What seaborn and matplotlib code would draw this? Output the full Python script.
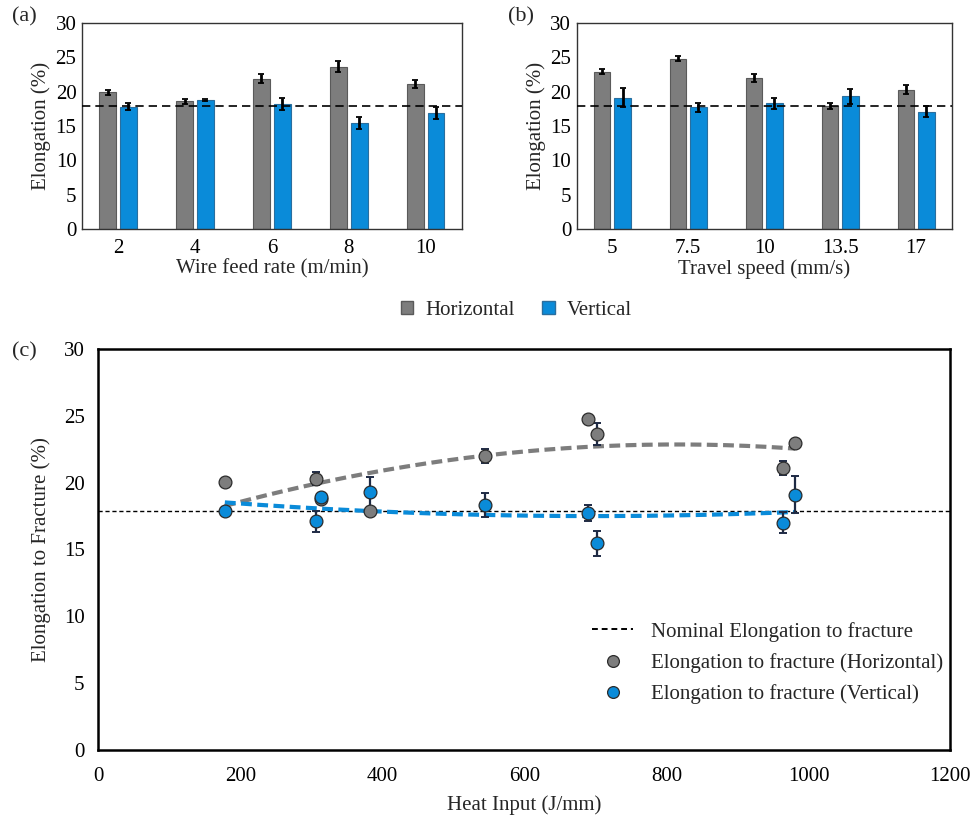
import numpy as np
import pandas as pd
import matplotlib
matplotlib.use("Agg")
import matplotlib.pyplot as plt
from matplotlib.lines import Line2D
from matplotlib.patches import Patch
import seaborn as sns

# (a) elongation vs wire feed rate
wfr_labels = ["2", "4", "6", "8", "10"]
wfr_horizontal = [19.9, 18.6, 21.9, 23.6, 21.1]
wfr_horizontal_err = [0.4, 0.35, 0.6, 0.8, 0.6]
wfr_vertical = [17.8, 18.8, 18.2, 15.4, 16.9]
wfr_vertical_err = [0.5, 0.1, 0.9, 0.9, 0.9]

# (b) elongation vs travel speed
ts_labels = ["5", "7.5", "10", "13.5", "17"]
ts_horizontal = [22.9, 24.8, 22.0, 17.9, 20.3]
ts_horizontal_err = [0.4, 0.4, 0.6, 0.4, 0.6]
ts_vertical = [19.1, 17.7, 18.3, 19.3, 17.1]
ts_vertical_err = [1.4, 0.7, 0.8, 1.1, 0.8]

nominal_elongation = 17.9

# (c) elongation to fracture vs heat input
heat_input = [178, 307, 314, 383, 544, 689, 702, 964, 981]
hi_horizontal = [20.05, 20.3, 18.75, 17.9, 22.0, 24.8, 23.65, 21.1, 22.95]
hi_horizontal_err = [0.0, 0.5, 0.3, 0.3, 0.5, 0.0, 0.8, 0.5, 0.0]
hi_vertical = [17.85, 17.1, 18.9, 19.3, 18.3, 17.7, 15.45, 17.0, 19.1]
hi_vertical_err = [0.3, 0.8, 0.3, 1.1, 0.9, 0.6, 0.9, 0.8, 1.4]

GRAY = "#7d7d7d"
BLUE = "#0a8bd9"
GRAY_EDGE = "#5a5a5a"
BLUE_EDGE = "#2a6e9e"
ORIENTS = ["Horizontal", "Vertical"]

sns.set_theme(style="white")
plt.rcParams["font.family"] = ["Liberation Serif", "DejaVu Serif"]
plt.rcParams["mathtext.fontset"] = "stix"

fig = plt.figure(figsize=(9.71, 8.16), dpi=100)

ax_a = fig.add_axes([0.0845, 0.7194, 0.391, 0.2525])
ax_b = fig.add_axes([0.594, 0.7194, 0.386, 0.2525])
ax_c = fig.add_axes([0.1014, 0.0809, 0.8774, 0.4914])


def bar_panel(ax, labels, h, he, v, ve, xlabel):
    n = len(labels)
    df = pd.DataFrame({
        "condition": labels + labels,
        "elongation": h + v,
        "orientation": [ORIENTS[0]] * n + [ORIENTS[1]] * n,
    })
    sns.barplot(data=df, x="condition", y="elongation", hue="orientation",
                order=labels, hue_order=ORIENTS, palette=[GRAY, BLUE],
                width=0.54, gap=0.2, errorbar=None, linewidth=0.8,
                saturation=1, legend=False, ax=ax)
    vals = h + v
    errs = he + ve
    for i, (patch, val, err) in enumerate(zip(ax.patches, vals, errs)):
        patch.set_edgecolor(GRAY_EDGE if i < n else BLUE_EDGE)
        xc = patch.get_x() + patch.get_width() / 2
        ax.errorbar(xc, val, yerr=err, fmt="none", ecolor="black",
                    elinewidth=2.0, capsize=2.2, capthick=1.3, zorder=5)
    ax.axhline(nominal_elongation, color="black", ls=(0, (5, 3)), lw=1.2, zorder=4)
    ax.set_ylim(0, 30)
    ax.set_yticks(range(0, 31, 5))
    ax.set_xlabel(xlabel, fontsize=15, labelpad=1)
    ax.set_ylabel("Elongation (%)", fontsize=15, labelpad=3)
    ax.tick_params(axis="both", length=0, labelsize=15, colors="black")
    ax.tick_params(axis="x", pad=7)
    ax.tick_params(axis="y", pad=4)
    for s in ax.spines.values():
        s.set_color("#333333")
        s.set_linewidth(1.0)


bar_panel(ax_a, wfr_labels, wfr_horizontal, wfr_horizontal_err,
          wfr_vertical, wfr_vertical_err, "Wire feed rate (m/min)")
bar_panel(ax_b, ts_labels, ts_horizontal, ts_horizontal_err,
          ts_vertical, ts_vertical_err, "Travel speed (mm/s)")

# shared legend for the bar panels
fig.legend(handles=[Patch(facecolor=GRAY, edgecolor=GRAY_EDGE, label="Horizontal"),
                    Patch(facecolor=BLUE, edgecolor=BLUE_EDGE, label="Vertical")],
           loc="center", bbox_to_anchor=(0.532, 0.62), ncol=2, frameon=False,
           fontsize=15, handlelength=0.6, handleheight=0.6, handletextpad=0.6,
           columnspacing=1.3)

# (c) scatter with error bars and quadratic trend lines
hx = np.array(heat_input, dtype=float)
ax_c.axhline(nominal_elongation, color="black", ls=(0, (3, 2)), lw=1.0, zorder=1)

for yvals, yerr, color in [(hi_horizontal, hi_horizontal_err, GRAY),
                           (hi_vertical, hi_vertical_err, BLUE)]:
    coef = np.polyfit(hx, yvals, 2)
    xs = np.linspace(hx.min(), hx.max(), 200)
    sns.lineplot(x=xs, y=np.polyval(coef, xs), color=color, lw=3.0,
                 ls=(0, (2.6, 1.3)), ax=ax_c, zorder=2)

for yvals, yerr, color in [(hi_horizontal, hi_horizontal_err, GRAY),
                           (hi_vertical, hi_vertical_err, BLUE)]:
    ax_c.errorbar(hx, yvals, yerr=yerr, fmt="none", ecolor="#1e2a44",
                  elinewidth=1.6, capsize=3, capthick=1.4, zorder=3)
    sns.scatterplot(x=hx, y=yvals, color=color, s=85, edgecolor="#2b2b2b",
                    linewidth=0.9, ax=ax_c, zorder=4)

ax_c.set_xlim(0, 1200)
ax_c.set_ylim(0, 30)
ax_c.set_xticks(range(0, 1201, 200))
ax_c.set_yticks(range(0, 31, 5))
ax_c.tick_params(axis="both", direction="in", length=5, width=1.3,
                 labelsize=15, colors="black")
ax_c.tick_params(axis="x", pad=12)
ax_c.tick_params(axis="y", pad=10)
for s in ax_c.spines.values():
    s.set_color("black")
    s.set_linewidth(1.8)
ax_c.set_xlabel("Heat Input (J/mm)", fontsize=15, labelpad=7)
ax_c.set_ylabel("Elongation to Fracture (%)", fontsize=15, labelpad=9)

legend_handles = [
    Line2D([], [], color="black", ls=(0, (3, 2)), lw=1.4),
    Line2D([], [], ls="none", marker="o", markersize=8.5, markerfacecolor=GRAY,
           markeredgecolor="#2b2b2b", markeredgewidth=0.9),
    Line2D([], [], ls="none", marker="o", markersize=8.5, markerfacecolor=BLUE,
           markeredgecolor="#2b2b2b", markeredgewidth=0.9),
]
ax_c.legend(legend_handles,
            ["Nominal Elongation to fracture",
             "Elongation to fracture (Horizontal)",
             "Elongation to fracture (Vertical)"],
            loc="upper left", bbox_to_anchor=(0.579, 0.32), frameon=False,
            fontsize=15, handlelength=2.0, handletextpad=0.85, labelspacing=0.55,
            borderpad=0, borderaxespad=0)

# panel letters
fig.text(0.012, 0.979, "(a)", fontsize=16, va="center", ha="left")
fig.text(0.523, 0.979, "(b)", fontsize=16, va="center", ha="left")
fig.text(0.012, 0.569, "(c)", fontsize=16, va="center", ha="left")

fig.savefig("out.png", dpi=100)
